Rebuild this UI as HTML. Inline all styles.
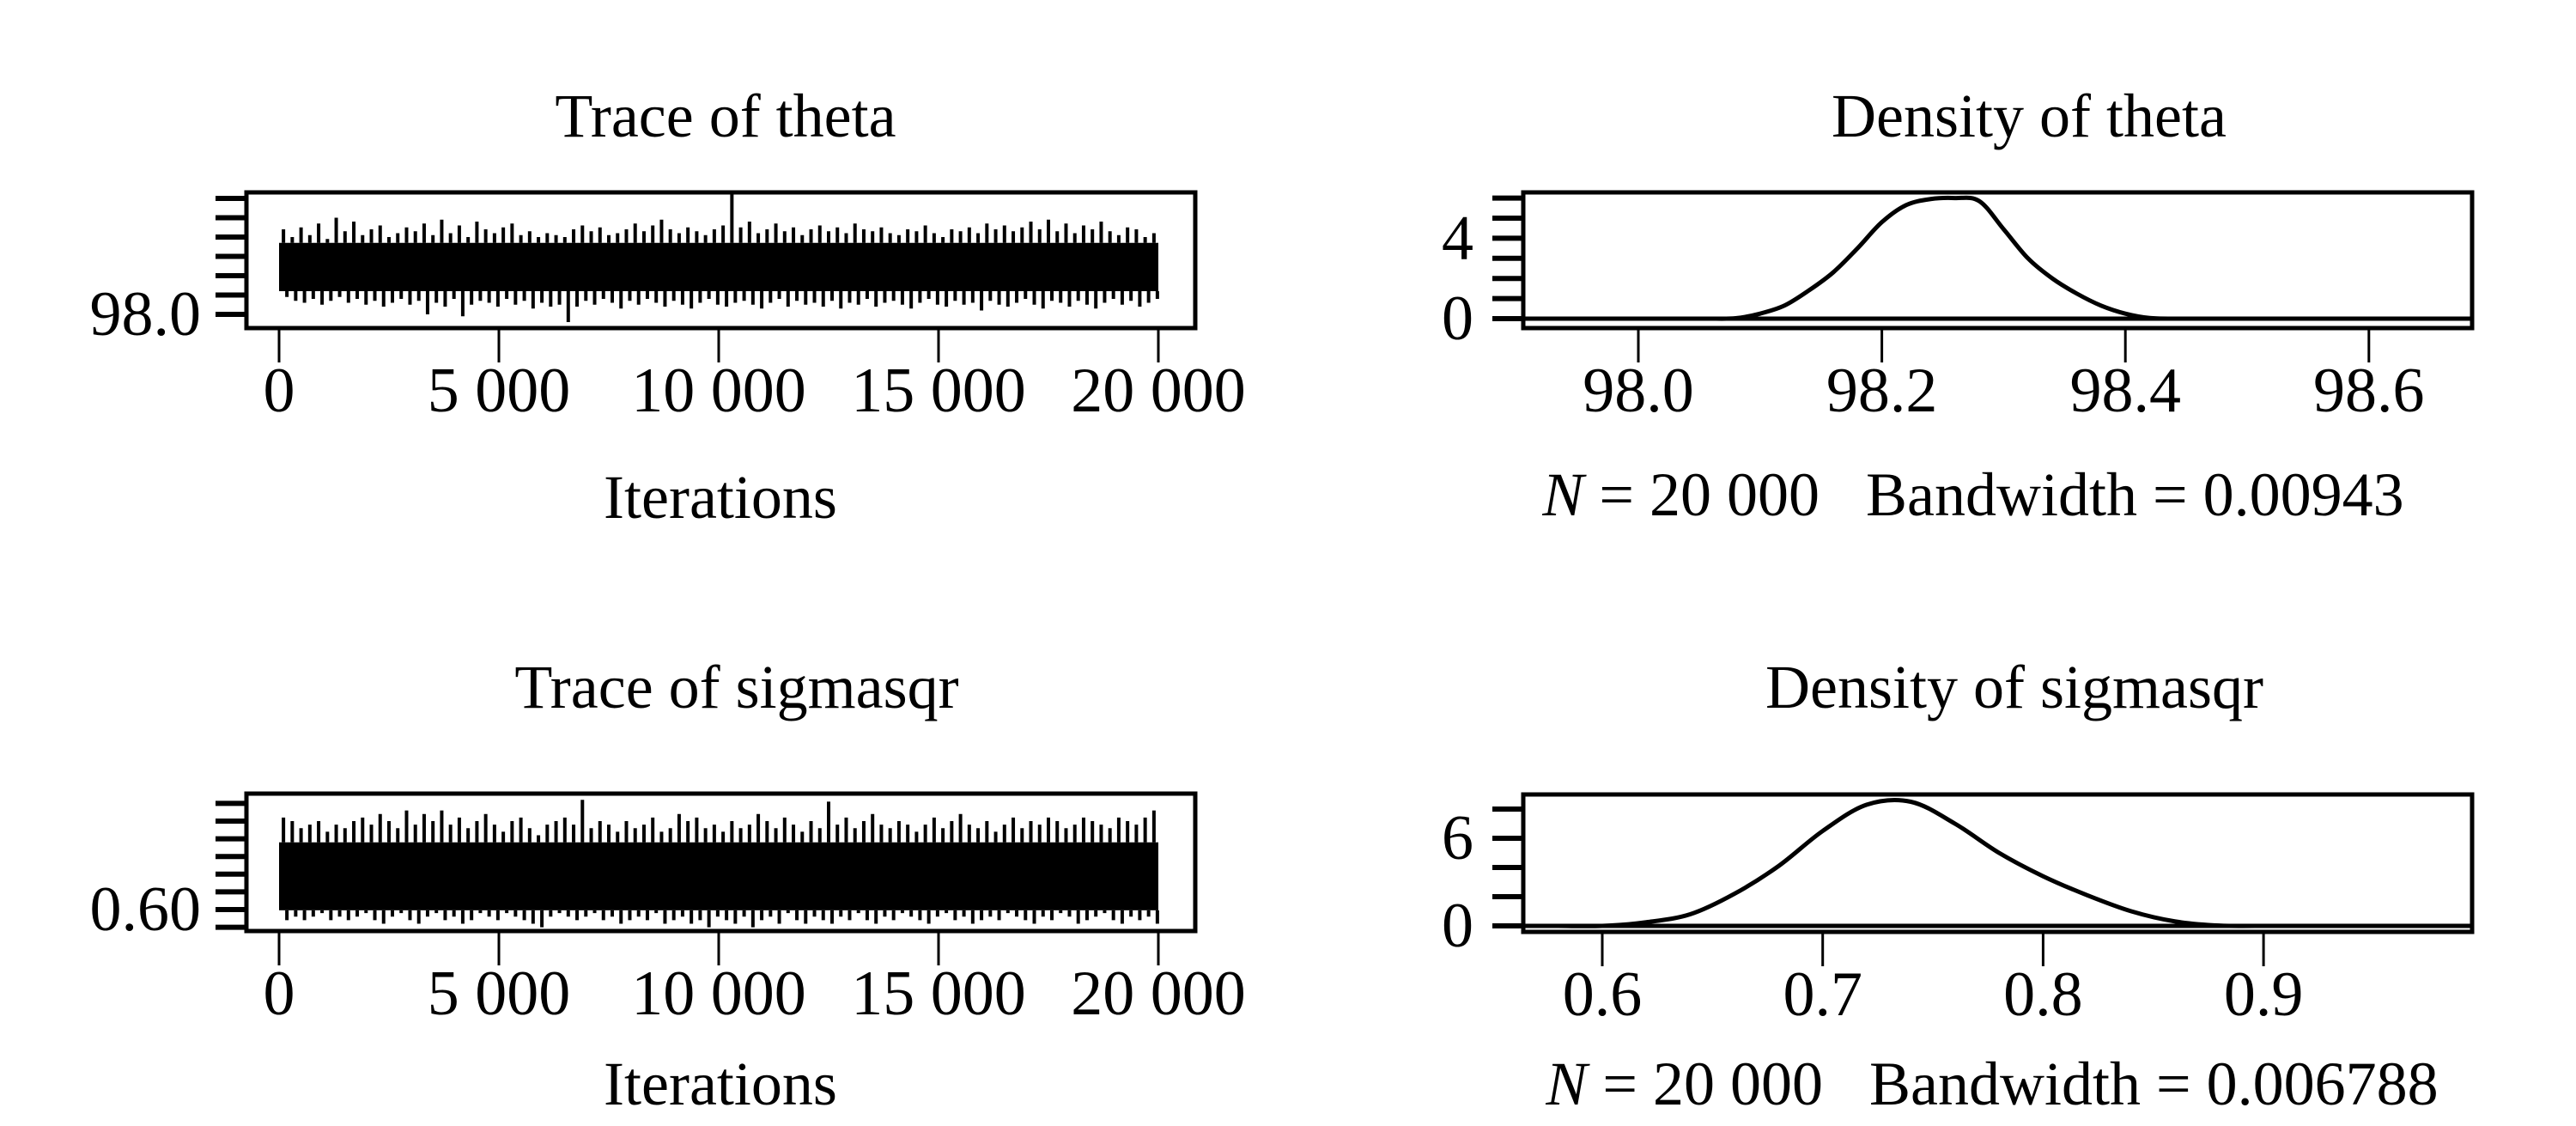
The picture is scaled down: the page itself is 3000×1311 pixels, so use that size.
<!DOCTYPE html>
<html><head><meta charset="utf-8"><style>
html,body{margin:0;padding:0;background:#fff;}
svg{display:block;font-family:"Liberation Serif",serif;}
</style></head><body>
<svg id="c" width="3000" height="1311" viewBox="0 0 3000 1311" xmlns="http://www.w3.org/2000/svg"></svg>
<script>
// ---- data ----
const iterTicks=[0,5000,10000,15000,20000];
const iterTickLabels=["0","5 000","10 000","15 000","20 000"];
const thetaYTicks=[98.0,98.1,98.2,98.3,98.4,98.5,98.6];
const thetaCore=[98.12,98.37];
const thetaHi=[98.44,98.40,98.45,98.41,98.47,98.39,98.50,98.43,98.48,98.41,98.44,98.46,98.40,98.42,98.45,98.43,98.47,98.41,98.49,98.42,98.46,98.40,98.48,98.44,98.42,98.45,98.47,98.41,98.43,98.40,98.42,98.41,98.40,98.44,98.46,98.43,98.45,98.41,98.42,98.44,98.47,98.43,98.46,98.49,98.44,98.42,98.45,98.43,98.41,98.44,98.46,98.63,98.45,98.48,98.42,98.44,98.47,98.43,98.45,98.41,98.44,98.46,98.43,98.45,98.42,98.47,98.44,98.43,98.45,98.42,98.41,98.44,98.43,98.46,98.42,98.40,98.44,98.43,98.45,98.42,98.47,98.44,98.46,98.43,98.45,98.48,98.44,98.49,98.43,98.47,98.42,98.46,98.44,98.48,98.43,98.41,98.45,98.44,98.40,98.42];
const thetaLo=[98.09,98.07,98.06,98.08,98.05,98.07,98.09,98.06,98.08,98.05,98.07,98.04,98.06,98.08,98.05,98.07,98.00,98.06,98.04,98.08,97.99,98.05,98.07,98.06,98.04,98.08,98.05,98.07,98.03,98.06,98.04,98.05,97.96,98.04,98.07,98.05,98.08,98.06,98.03,98.07,98.05,98.08,98.06,98.04,98.07,98.05,98.03,98.06,98.08,98.05,98.04,98.06,98.07,98.05,98.03,98.06,98.08,98.04,98.07,98.05,98.06,98.04,98.07,98.03,98.06,98.05,98.08,98.04,98.06,98.07,98.05,98.03,98.06,98.08,98.05,98.04,98.07,98.05,98.06,98.02,98.07,98.05,98.04,98.06,98.08,98.05,98.03,98.07,98.06,98.04,98.07,98.05,98.03,98.06,98.08,98.05,98.07,98.04,98.06,98.08];
const sigYTicks=[0.55,0.60,0.65,0.70,0.75,0.80,0.85,0.90];
const sigCore=[0.598,0.79];
const sigHi=[0.86,0.85,0.83,0.84,0.85,0.82,0.84,0.83,0.85,0.86,0.84,0.87,0.85,0.83,0.88,0.84,0.87,0.85,0.88,0.84,0.86,0.83,0.85,0.87,0.84,0.82,0.85,0.86,0.83,0.81,0.84,0.85,0.86,0.84,0.91,0.83,0.85,0.84,0.82,0.85,0.83,0.84,0.86,0.82,0.83,0.87,0.85,0.86,0.83,0.84,0.82,0.85,0.83,0.84,0.87,0.85,0.83,0.86,0.84,0.82,0.85,0.83,0.905,0.84,0.86,0.83,0.85,0.87,0.84,0.83,0.85,0.84,0.82,0.84,0.86,0.83,0.85,0.87,0.84,0.83,0.85,0.82,0.84,0.86,0.83,0.85,0.84,0.86,0.85,0.83,0.84,0.86,0.85,0.84,0.83,0.86,0.85,0.84,0.86,0.88];
const sigLo=[0.57,0.58,0.57,0.58,0.59,0.57,0.58,0.57,0.58,0.59,0.57,0.56,0.58,0.59,0.57,0.56,0.58,0.59,0.57,0.58,0.56,0.57,0.59,0.58,0.57,0.59,0.58,0.57,0.56,0.55,0.58,0.59,0.58,0.57,0.58,0.59,0.57,0.58,0.56,0.57,0.58,0.57,0.59,0.56,0.57,0.58,0.56,0.57,0.55,0.58,0.57,0.56,0.58,0.55,0.57,0.58,0.56,0.59,0.57,0.56,0.58,0.57,0.56,0.58,0.57,0.59,0.57,0.56,0.58,0.57,0.59,0.58,0.57,0.56,0.58,0.59,0.57,0.58,0.56,0.57,0.58,0.57,0.59,0.58,0.57,0.56,0.58,0.57,0.59,0.58,0.56,0.57,0.58,0.59,0.57,0.56,0.58,0.57,0.58,0.56];
const thDensX=[98.06,98.08,98.10,98.12,98.14,98.16,98.18,98.20,98.22,98.24,98.26,98.28,98.30,98.32,98.34,98.36,98.38,98.40,98.42,98.44];
const thDensY=[0,0.02,0.25,0.65,1.4,2.3,3.5,4.8,5.65,5.95,6.0,5.85,4.45,3.0,2.0,1.25,0.65,0.25,0.03,0];
const thDensXTicks=[98.0,98.2,98.4,98.6];
const thDensXLabels=["98.0","98.2","98.4","98.6"];
const thDensYTicks=[0,1,2,3,4,5,6];
const sgDensX=[0.58,0.60,0.62,0.64,0.66,0.68,0.70,0.72,0.74,0.76,0.78,0.80,0.82,0.84,0.86,0.88,0.90];
const sgDensY=[0,0,0.25,0.8,2.2,4.1,6.5,8.3,8.5,7.0,5.0,3.4,2.1,1.0,0.3,0.02,0];
const sgDensXTicks=[0.6,0.7,0.8,0.9];
const sgDensXLabels=["0.6","0.7","0.8","0.9"];
const sgDensYTicks=[0,2,4,6,8];

const NS="http://www.w3.org/2000/svg";
const svg=document.getElementById('c');
function mk(tag,attrs,parent,text){const e=document.createElementNS(NS,tag);for(const k in attrs)e.setAttribute(k,attrs[k]);if(text!==undefined)e.textContent=text;(parent||svg).appendChild(e);return e;}
function grp(name){const g=mk('g',{});


return g;}
function txt(g,x,y,s,anchor,name,fs){const t=mk('text',{x:x,y:y,'font-size':fs||72,'text-anchor':anchor||'middle',fill:'#000'},g,s);


return t;}
function line(g,x1,y1,x2,y2,w,name){const l=mk('line',{x1:x1,y1:y1,x2:x2,y2:y2,stroke:'#000','stroke-width':w},g);


return l;}
function smoothPath(pts){let d=`M${pts[0][0]},${pts[0][1]}`;for(let i=0;i<pts.length-1;i++){const p0=pts[Math.max(0,i-1)],p1=pts[i],p2=pts[i+1],p3=pts[Math.min(pts.length-1,i+2)];const c1=[p1[0]+(p2[0]-p0[0])/6,p1[1]+(p2[1]-p0[1])/6],c2=[p2[0]-(p3[0]-p1[0])/6,p2[1]-(p3[1]-p1[1])/6];d+=` C${c1[0]},${c1[1]} ${c2[0]},${c2[1]} ${p2[0]},${p2[1]}`;}return d;}

function trace(o){
  const g=grp(o.name);
  const xS=v=>325+v/20000*1024;
  const yS=v=>o.y0-(v-o.v0)*o.k;
  txt(g,o.tx,o.ty,o.title,'middle','panel-title');
  const r=mk('rect',{x:xS(0),y:yS(o.core[1]),width:xS(20000)-xS(0),height:yS(o.core[0])-yS(o.core[1]),fill:'#000'},g);
  
  
  const n=o.hi.length;
  for(let i=0;i<n;i++){
    const it=(i+0.5)*20000/n;
    line(g,xS(it),yS(o.hi[i]),xS(it),yS(o.core[1]),4,'trace-spike-high');
    line(g,xS(it)+4,yS(o.core[0]),xS(it)+4,yS(o.lo[i]),4,'trace-spike-low');
  }
  const b=mk('rect',{x:287,y:o.top,width:1105,height:o.bot-o.top,fill:'none',stroke:'#000','stroke-width':5},g);
  
  
  o.yt.forEach(v=>line(g,251,yS(v),287,yS(v),6,'y-tick'));
  txt(g,234,yS(o.v0)+24,o.ylab,'end','y-tick-label',74);
  iterTicks.forEach((v,i)=>{line(g,xS(v),o.bot,xS(v),o.bot+40,3,'x-tick');txt(g,xS(v),o.bot+97,iterTickLabels[i],'middle','x-tick-label',74);});
  txt(g,839,o.bot+o.labDy,'Iterations','middle','x-axis-title');
}
trace({name:'trace-theta-panel',title:'Trace of theta',tx:845,ty:159,top:224,bot:382,y0:366,v0:98.0,k:225,core:thetaCore,hi:thetaHi,lo:thetaLo,yt:thetaYTicks,ylab:'98.0',labDy:221});
trace({name:'trace-sigmasqr-panel',title:'Trace of sigmasqr',tx:858,ty:824,top:924,bot:1084,y0:1059,v0:0.60,k:412,core:sigCore,hi:sigHi,lo:sigLo,yt:sigYTicks,ylab:'0.60',labDy:202});

function dens(o){
  const g=grp(o.name);
  const xS=v=>o.xa+(v-o.xv)*o.xk;
  const yS=v=>o.zero-v*o.yk;
  txt(g,o.tx,o.ty,o.title,'middle','panel-title');
  line(g,1774,o.zero,2879,o.zero,5,'zero-baseline');
  const pts=o.dx.map((x,i)=>[xS(x),yS(o.dy[i])]);
  const p=mk('path',{d:smoothPath(pts),fill:'none',stroke:'#000','stroke-width':5},g);
  
  
  const b=mk('rect',{x:1774,y:o.top,width:1105,height:o.bot-o.top,fill:'none',stroke:'#000','stroke-width':5},g);
  
  
  o.yt.forEach(v=>line(g,1738,yS(v),1774,yS(v),6,'y-tick'));
  o.ylabs.forEach(v=>txt(g,1716,yS(v)+24,String(v),'end','y-tick-label',74));
  o.xt.forEach((v,i)=>{line(g,xS(v),o.bot,xS(v),o.bot+40,3,'x-tick');txt(g,xS(v),o.bot+97,o.xl[i],'middle','x-tick-label',74);});
  const t=mk('text',{x:o.nx,y:o.bot+o.labDy,'font-size':72,'text-anchor':'middle'},g);
  
  
  t.style.whiteSpace='pre';
  mk('tspan',{'font-style':'italic'},t,'N');
  mk('tspan',{},t,' = 20 000   '+o.bw);
}
dens({name:'density-theta-panel',title:'Density of theta',tx:2363,ty:159,top:224,bot:382,zero:371,yk:23.4,xa:1908,xv:98.0,xk:1418,dx:thDensX,dy:thDensY,yt:thDensYTicks,ylabs:[0,4],xt:thDensXTicks,xl:thDensXLabels,bw:'Bandwidth = 0.00943',labDy:218,nx:2298});
dens({name:'density-sigmasqr-panel',title:'Density of sigmasqr',tx:2346,ty:824,top:925,bot:1085,zero:1078,yk:17,xa:1866,xv:0.6,xk:2567,dx:sgDensX,dy:sgDensY,yt:sgDensYTicks,ylabs:[0,6],xt:sgDensXTicks,xl:sgDensXLabels,bw:'Bandwidth = 0.006788',labDy:201,nx:2320});
</script>
</body></html>
